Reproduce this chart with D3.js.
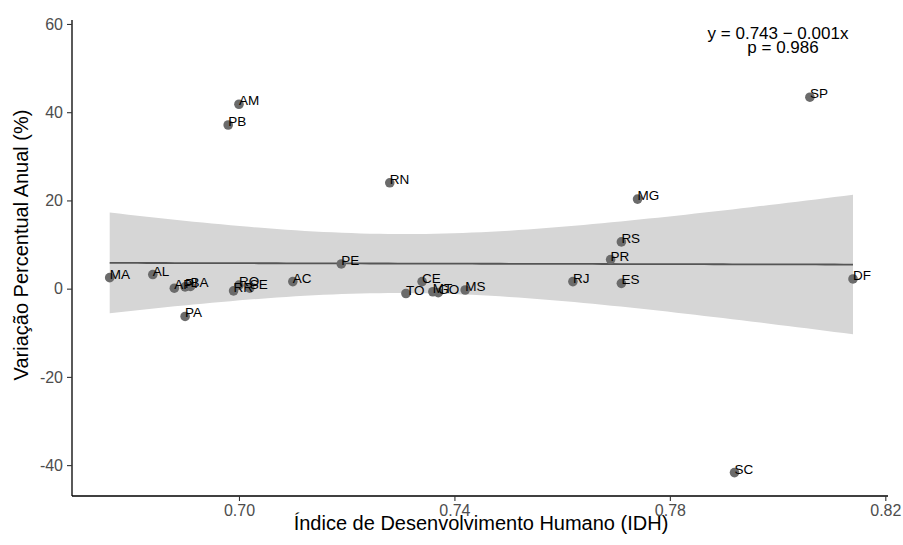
<!DOCTYPE html>
<html>
<head>
<meta charset="utf-8">
<script src="https://cdn.jsdelivr.net/npm/d3@7"></script>
<style>
  html, body { margin: 0; padding: 0; background: #ffffff; }
  svg { display: block; font-family: "Liberation Sans", Arial, sans-serif; }
</style>
</head>
<body>
<svg id="chart" width="903" height="545"></svg>
<script>
// ---- Data ----
const states = ["MA","AL","AP","PI","BA","PA","RR","RO","AM","PB","SE","AC","PE","RN","TO","CE","MT","GO","MS","RJ","PR","RS","ES","MG","SC","SP","DF"];
const idh    = [0.676,0.684,0.688,0.690,0.691,0.690,0.699,0.700,0.700,0.698,0.702,0.710,0.719,0.728,0.731,0.734,0.736,0.737,0.742,0.762,0.769,0.771,0.771,0.774,0.792,0.806,0.814];
const variacao = [2.5,3.2,0.1,0.4,0.5,-6.3,-0.5,0.8,41.8,37.1,0.1,1.6,5.6,24.0,-1.1,1.6,-0.7,-0.9,-0.3,1.6,6.6,10.6,1.2,20.3,-41.7,43.4,2.2];
const xTicks = [0.70, 0.74, 0.78, 0.82];
const yTicks = [-40, -20, 0, 20, 40, 60];
const annotationLines = ["y = 0.743 \u2212 0.001x", "p = 0.986"];
const xTitle = "\u00CDndice de Desenvolvimento Humano (IDH)";
const yTitle = "Varia\u00E7\u00E3o Percentual Anual (%)";

const svg = d3.select("#chart");
const mLeft = 72, mRight = 888, mTop = 20, mBottom = 496;

const x = d3.scaleLinear().domain([0.669, 0.8205]).range([mLeft, mRight]);
const y = d3.scaleLinear().domain([-47, 60.9]).range([mBottom, mTop]);

const data = states.map((s, i) => ({ s, x: idh[i], y: variacao[i] }));

// ---- Linear fit with 95% CI ----
const n = data.length;
const xbar = d3.mean(data, d => d.x), ybar = d3.mean(data, d => d.y);
const sxx = d3.sum(data, d => (d.x - xbar) ** 2);
const sxy = d3.sum(data, d => (d.x - xbar) * (d.y - ybar));
const b1 = sxy / sxx, b0 = ybar - b1 * xbar;
const sse = d3.sum(data, d => (d.y - (b0 + b1 * d.x)) ** 2);
const sres = Math.sqrt(sse / (n - 2));
const tq = 2.0595; // t(0.975, df = 25)
const xmin = d3.min(idh), xmax = d3.max(idh);
const grid = d3.range(0, 81).map(i => xmin + (xmax - xmin) * i / 80);
const fit = grid.map(gx => {
  const yh = b0 + b1 * gx;
  const se = sres * Math.sqrt(1 / n + (gx - xbar) ** 2 / sxx);
  return { x: gx, y: yh, lo: yh - tq * se, hi: yh + tq * se };
});

svg.append("path")
  .datum(fit)
  .attr("fill", "#d6d6d6")
  .attr("d", d3.area().x(d => x(d.x)).y0(d => y(d.lo)).y1(d => y(d.hi)));

svg.append("path")
  .datum(fit)
  .attr("fill", "none")
  .attr("stroke", "#555555")
  .attr("stroke-width", 1.8)
  .attr("d", d3.line().x(d => x(d.x)).y(d => y(d.y)));

// ---- Axes ----
const xAxis = svg.append("g")
  .attr("transform", `translate(0,${mBottom})`)
  .call(d3.axisBottom(x).tickValues(xTicks).tickFormat(d3.format(".2f")).tickSizeOuter(0).tickSize(5).tickPadding(4));
const yAxis = svg.append("g")
  .attr("transform", `translate(${mLeft},0)`)
  .call(d3.axisLeft(y).tickValues(yTicks).tickFormat(d => d).tickSizeOuter(0).tickSize(5).tickPadding(4));

[xAxis, yAxis].forEach(g => {
  g.select(".domain").attr("stroke", "#000").attr("stroke-width", 1.3);
  g.selectAll(".tick line").attr("stroke", "#333").attr("stroke-width", 1.1);
  g.selectAll(".tick text").attr("fill", "#4d4d4d").attr("font-size", 16)
    .attr("font-family", "'Liberation Sans', Arial, sans-serif");
});
xAxis.select(".domain").attr("d", `M${mLeft},0H${mRight}`);
yAxis.select(".domain").attr("d", `M0,${mTop}V${mBottom}`);

// ---- Points ----
svg.append("g").selectAll("circle")
  .data(data).join("circle")
  .attr("cx", d => x(d.x)).attr("cy", d => y(d.y))
  .attr("r", 4.8)
  .attr("fill", "#6b6b6b");

// ---- Point labels ----
svg.append("g").selectAll("text")
  .data(data).join("text")
  .attr("x", d => x(d.x))
  .attr("y", d => y(d.y) + 1)
  .attr("font-size", 13.5)
  .attr("fill", "#000")
  .text(d => d.s);

// ---- Annotation ----
svg.append("text").attr("x", 778).attr("y", 39).attr("text-anchor", "middle")
  .attr("font-size", 17).attr("fill", "#000").text(annotationLines[0]);
svg.append("text").attr("x", 783).attr("y", 53).attr("text-anchor", "middle")
  .attr("font-size", 17).attr("fill", "#000").text(annotationLines[1]);

// ---- Titles ----
svg.append("text").attr("x", 481).attr("y", 530).attr("text-anchor", "middle")
  .attr("font-size", 20).attr("fill", "#000").text(xTitle);
svg.append("text").attr("transform", "translate(28,245) rotate(-90)").attr("text-anchor", "middle")
  .attr("font-size", 20).attr("fill", "#000").text(yTitle);
</script>
</body>
</html>
